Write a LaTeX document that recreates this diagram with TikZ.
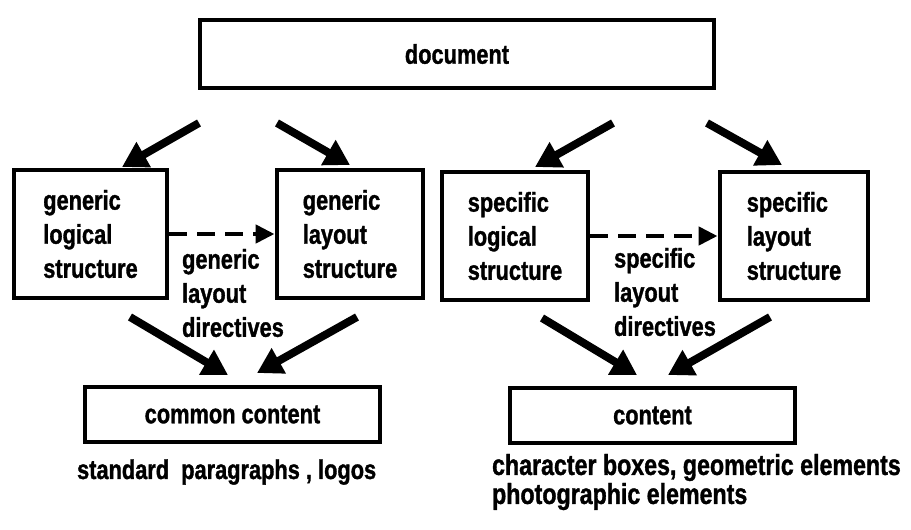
\documentclass[tikz,border=0pt]{standalone}
\usepackage{fontspec}
\setmainfont{Liberation Sans}[FakeStretch=0.8, BoldFeatures={FakeBold=1.2}]
\usetikzlibrary{arrows.meta}

\begin{document}
\begin{tikzpicture}[
  x=1cm, y=1cm,
  every node/.style={inner sep=1pt, font=\bfseries\fontsize{15.5}{19.4}\selectfont},
  box/.style={draw, line width=2.8pt, align=left, inner sep=0pt},
  txt/.style={anchor=west, align=left},
  % thick solid arrows, and the dashed one for the layout directives
  arrow/.style={draw, line width=4.5pt, -{Triangle[length=0.5cm,width=0.55cm]}},
  darrow/.style={draw, line width=2.6pt, -{Triangle[length=0.38cm,width=0.36cm]},
    dash pattern=on 0.36cm off 0.2cm}]

  \useasboundingbox (0,0) rectangle (18.22,10.58);

  % boxes
  \node[box, minimum width=10.28cm, minimum height=1.36cm] (doc) at (9.14,9.50) {document};
  \node[box, minimum width=3.06cm, minimum height=2.56cm] (gls) at (1.81,5.90) {generic\\logical\\structure};
  \node[box, minimum width=2.92cm, minimum height=2.56cm] (gly) at (7.00,5.90) {generic\\layout\\structure};
  \node[box, minimum width=2.92cm, minimum height=2.56cm] (sls) at (10.30,5.86) {specific\\logical\\structure};
  \node[box, minimum width=2.96cm, minimum height=2.56cm] (sly) at (15.88,5.86) {specific\\layout\\structure};
  \node[box, minimum width=5.90cm, minimum height=1.10cm] (cc) at (4.65,2.29) {common content};
  \node[box, minimum width=5.70cm, minimum height=1.10cm] (ct) at (13.05,2.27) {content};

  % free ends of the solid arrows
  \coordinate (d1) at (3.98,8.12);  \coordinate (t1) at (2.44,7.24);
  \coordinate (d2) at (5.54,8.12);  \coordinate (t2) at (7.00,7.28);
  \coordinate (d3) at (12.26,8.12); \coordinate (t3) at (10.70,7.24);
  \coordinate (d4) at (14.14,8.12); \coordinate (t4) at (15.64,7.28);
  \coordinate (u1) at (2.60,4.24);  \coordinate (v1) at (4.56,3.08);
  \coordinate (u2) at (7.14,4.24);  \coordinate (v2) at (5.14,3.12);
  \coordinate (u3) at (10.84,4.22); \coordinate (v3) at (12.74,3.08);
  \coordinate (u4) at (15.40,4.24); \coordinate (v4) at (13.36,3.08);

  % arrows
  \draw[arrow] (d1) -- (t1);
  \draw[arrow] (d2) -- (t2);
  \draw[arrow] (d3) -- (t3);
  \draw[arrow] (d4) -- (t4);
  \draw[arrow] (u1) -- (v1);
  \draw[arrow] (u2) -- (v2);
  \draw[arrow] (u3) -- (v3);
  \draw[arrow] (u4) -- (v4);
  \draw[darrow] (gls.east) -- (gly.west);
  \draw[darrow] (sls.east) -- (sly.west);

  % labels
  \node[txt] (gld) at (3.60,4.72) {generic\\layout\\directives};
  \node[txt] (sld) at (12.24,4.74) {specific\\layout\\directives};
  \node[txt] (ccx) at (1.50,1.14) {standard\ \ paragraphs , logos};
  \node[txt, font=\bfseries\fontsize{16.5}{16.5}\selectfont] (ctx) at (9.80,0.94)
    {character boxes, geometric elements\\photographic elements};
\end{tikzpicture}
\end{document}
